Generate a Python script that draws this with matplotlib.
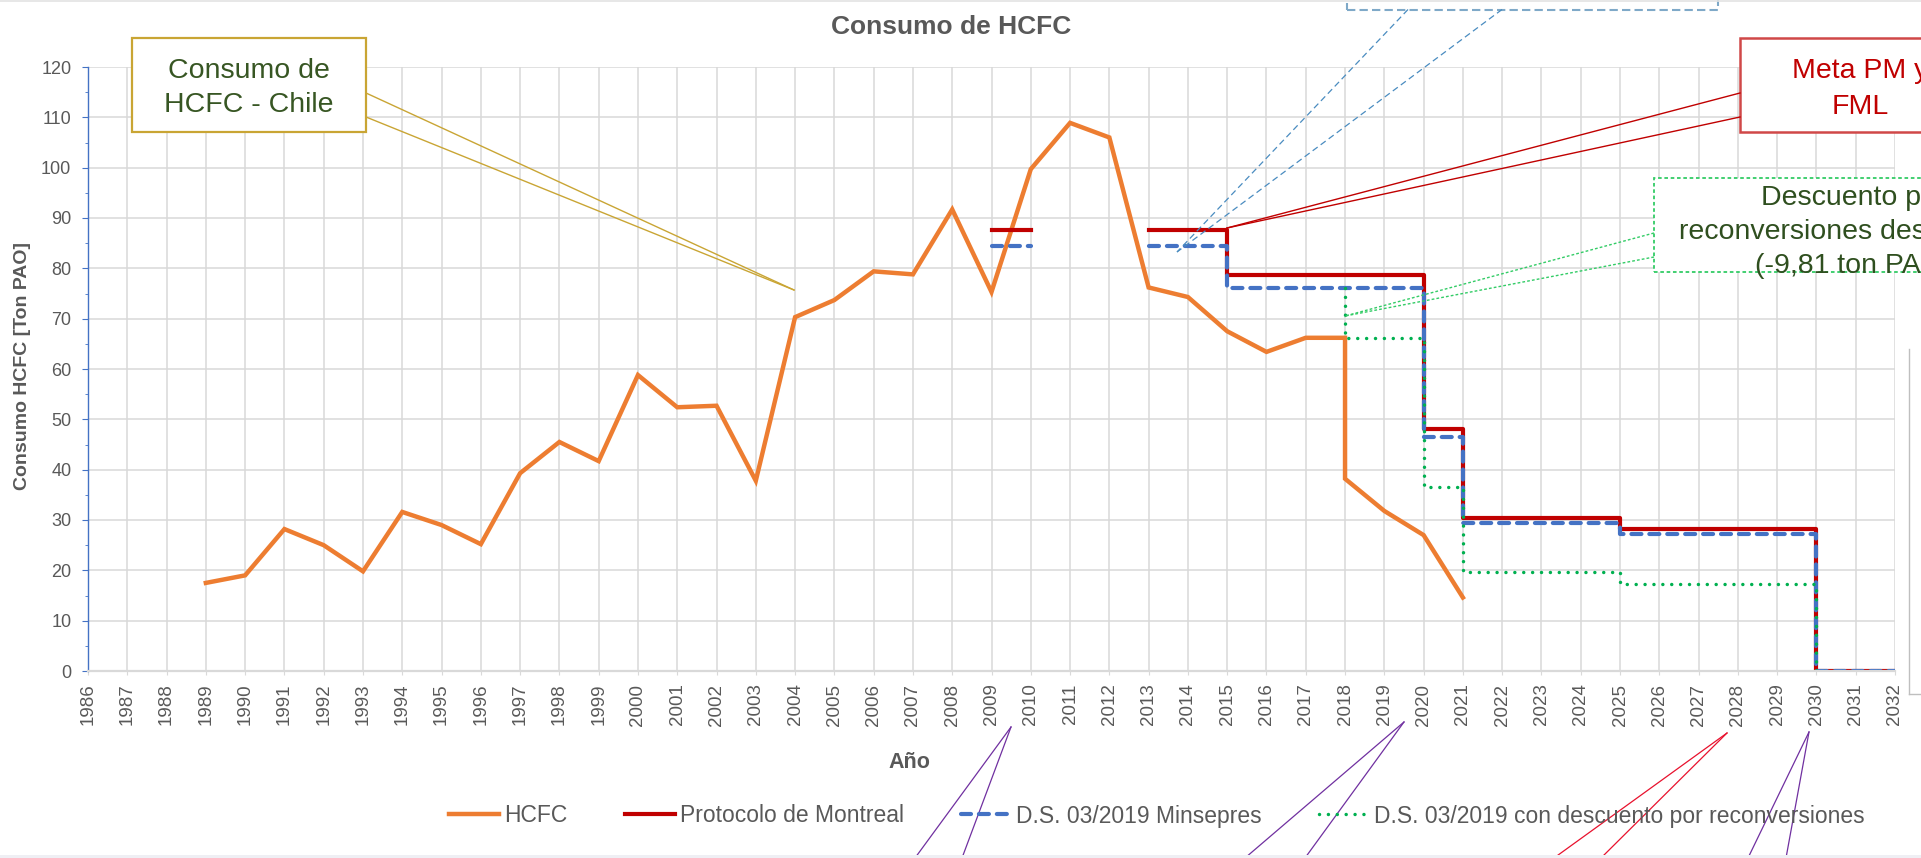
import numpy as np
import matplotlib
matplotlib.use("Agg")
import matplotlib.pyplot as plt
from matplotlib.lines import Line2D
from matplotlib.patches import Rectangle

plt.rcParams['font.family'] = ['Liberation Sans', 'DejaVu Sans']

W, H = 1921, 858

# Consumo HCFC (ton PAO); 2018 va dos veces por la caida vertical
anios_hcfc = [1989, 1990, 1991, 1992, 1993, 1994, 1995, 1996, 1997, 1998,
              1999, 2000, 2001, 2002, 2003, 2004, 2005, 2006, 2007, 2008,
              2009, 2010, 2011, 2012, 2013, 2014, 2015, 2016, 2017, 2018,
              2018, 2019, 2020, 2021]
hcfc = [17.5, 19.0, 28.2, 25.0, 19.8, 31.6, 29.0, 25.2, 39.3, 45.5,
        41.7, 58.8, 52.4, 52.7, 37.8, 70.3, 73.7, 79.4, 78.8, 91.7,
        75.3, 99.7, 108.9, 106.0, 76.2, 74.3, 67.5, 63.4, 66.2, 66.2,
        38.2, 31.8, 27.0, 14.6]

# metas escalonadas: anio inicio, anio fin, valor
pm_ini = [2009, 2013, 2015, 2020, 2021, 2025, 2030]
pm_fin = [2010, 2015, 2020, 2021, 2025, 2030, 2032]
pm_val = [87.6, 87.6, 78.7, 48.1, 30.3, 28.3, 0.0]
ds_val = [84.4, 84.4, 76.0, 46.5, 29.5, 27.3, 0.0]

desc_ini = [2018, 2018, 2020, 2021, 2025, 2030]
desc_fin = [2018, 2020, 2021, 2025, 2030, 2032]
desc_val = [76.0, 66.2, 36.6, 19.7, 17.3, 0.0]

anios = list(range(1986, 2033))
yticks = list(range(0, 121, 10))

series_labels = ["HCFC", "Protocolo de Montreal", "D.S. 03/2019 Minsepres",
                 "D.S. 03/2019 con descuento por reconversiones"]


def escalon(ini, fin, val):
    xs, ys = [], []
    for i in range(len(ini)):
        if i > 0 and ini[i] != fin[i - 1]:
            xs.append(np.nan)
            ys.append(np.nan)
        xs += [ini[i], fin[i]]
        ys += [val[i], val[i]]
    return xs, ys


def P(x, y):
    # pixeles de la imagen -> fraccion de figura
    return x / W, 1 - y / H


fig = plt.figure(figsize=(W / 100, H / 100), dpi=100)
ax = fig.add_axes([88 / W, 1 - 671 / H, (1895 - 88) / W, (671 - 67) / H])

gray_txt = '#595959'
grid_c = '#D9D9D9'

ax.plot(anios_hcfc, hcfc, color='#ED7D31', lw=3.2, label=series_labels[0],
        solid_joinstyle='miter')
x, y = escalon(pm_ini, pm_fin, pm_val)
ax.plot(x, y, color='#C00000', lw=3, label=series_labels[1])
x, y = escalon(pm_ini, pm_fin, ds_val)
ax.plot(x, y, color='#4472C4', lw=3, ls=(0, (2.4, 1.9)),
        dash_capstyle='round', label=series_labels[2])
x, y = escalon(desc_ini, desc_fin, desc_val)
ax.plot(x, y, color='#00B050', lw=2.5, ls=(0, (0.01, 2.55)),
        dash_capstyle='round', label=series_labels[3])

ax.set_xlim(1986, 2032)
ax.set_ylim(0, 120)
ax.set_xticks(anios)
ax.set_xticklabels([str(a) for a in anios], rotation=90)
ax.set_yticks(yticks)
ax.set_yticks(range(5, 120, 10), minor=True)
ax.grid(True, color=grid_c, lw=1.1)
ax.set_axisbelow(True)
for s in ['top', 'right']:
    ax.spines[s].set_visible(False)
ax.spines['bottom'].set_color(grid_c)
ax.spines['bottom'].set_linewidth(1.6)
ax.spines['left'].set_color('#4472C4')
ax.spines['left'].set_linewidth(1.0)
ax.tick_params(axis='x', colors=grid_c, labelcolor=gray_txt, labelsize=13.5,
               length=3, pad=6)
ax.tick_params(axis='y', which='major', colors='#4472C4', labelcolor=gray_txt,
               labelsize=13, length=4, pad=8)
ax.tick_params(axis='y', which='minor', colors='#4472C4', length=2.5)

fig.text(*P(951, 27), "Consumo de HCFC", ha='center', va='center',
         fontsize=19, fontweight='bold', color=gray_txt)
fig.text(*P(23, 366), "Consumo HCFC [Ton PAO]", ha='center', va='center',
         rotation=90, fontsize=14, fontweight='bold', color=gray_txt)
fig.text(*P(909, 762), "Año", ha='center', va='center',
         fontsize=15.5, fontweight='bold', color=gray_txt)

h, l = ax.get_legend_handles_labels()
fig.legend(h, l, loc='center left', bbox_to_anchor=P(449, 816), ncol=4,
           frameon=False, fontsize=16.5, handlelength=2.2, handletextpad=0.2,
           columnspacing=2.5, borderpad=0, borderaxespad=0,
           labelcolor=gray_txt)


def linea(p0, p1, color, lw=1.0, ls='-'):
    fig.add_artist(Line2D([P(*p0)[0], P(*p1)[0]], [P(*p0)[1], P(*p1)[1]],
                          transform=fig.transFigure, color=color, lw=lw,
                          ls=ls, zorder=5))


def caja(x0, y0, x1, y1, color, lw=1.5, ls='-'):
    fx0, fy1 = P(x0, y1)
    fx1, fy0 = P(x1, y0)
    fig.add_artist(Rectangle((fx0, fy1), fx1 - fx0, fy0 - fy1,
                             transform=fig.transFigure, facecolor='white',
                             edgecolor=color, lw=lw, ls=ls, zorder=4))


# callout dorado
caja(132, 38, 366, 132, '#C9A534', lw=1.6)
linea((366, 93), (794, 290), '#C9A534')
linea((366, 117), (794, 290), '#C9A534')
fig.text(*P(249, 88), "Consumo de\nHCFC - Chile", ha='center', va='center',
         fontsize=20.5, color='#375623', linespacing=1.45, zorder=6)

# callout azul (caja cortada arriba)
caja(1347, -60, 1718, 9.5, '#7FA9C8', lw=1.5, ls=(0, (4, 2)))
linea((1408, 9.5), (1177, 252), '#4A8CC0', lw=0.9, ls=(0, (5, 3)))
linea((1502, 9.5), (1177, 252), '#4A8CC0', lw=0.9, ls=(0, (5, 3)))

# callout rojo
caja(1740, 38, 1990, 132, '#D04848', lw=1.8)
linea((1740, 93), (1227, 228), '#C00000')
linea((1740, 117), (1227, 228), '#C00000')
fig.text(*P(1860, 89), "Meta PM y\nFML", ha='center', va='center',
         fontsize=20.5, color='#C00000', linespacing=1.45, zorder=6)

# callout verde
caja(1654, 178, 1990, 272, '#33CC66', lw=1.3, ls=(0, (2, 1.5)))
linea((1654, 233), (1345, 316), '#33CC66', lw=1.0, ls=(0, (2, 1.5)))
linea((1654, 257), (1345, 316), '#33CC66', lw=1.0, ls=(0, (2, 1.5)))
fig.text(*P(1854, 232), "Descuento por\nreconversiones desde 2018\n(-9,81 ton PAO)",
         ha='center', va='center', fontsize=20.5, color='#2F4F1F',
         linespacing=1.4, zorder=6)

# lineas de callouts inferiores (cajas fuera de la imagen)
for tip, b0, b1, c in [((1011, 727), (915, 858), (962, 858), '#7030A0'),
                       ((1404, 722), (1245, 858), (1305, 858), '#7030A0'),
                       ((1727, 733), (1554, 858), (1601, 858), '#E8112D'),
                       ((1809, 732), (1748, 858), (1786, 858), '#7030A0')]:
    linea(tip, b0, c, lw=0.9)
    linea(tip, b1, c, lw=0.9)

# bordes de la captura
linea((1909, 349), (1909, 694), '#BFBFBF', lw=1.0)
linea((1909, 694), (1921, 694), '#BFBFBF', lw=1.0)
linea((0, 0.8), (1921, 0.8), '#E3E3E3', lw=1.2)
fig.add_artist(Rectangle(P(0, 858), 1, 3 / H, transform=fig.transFigure,
                         facecolor='#EFEFF4', edgecolor='none', zorder=7))

fig.savefig("out.png", dpi=100)
